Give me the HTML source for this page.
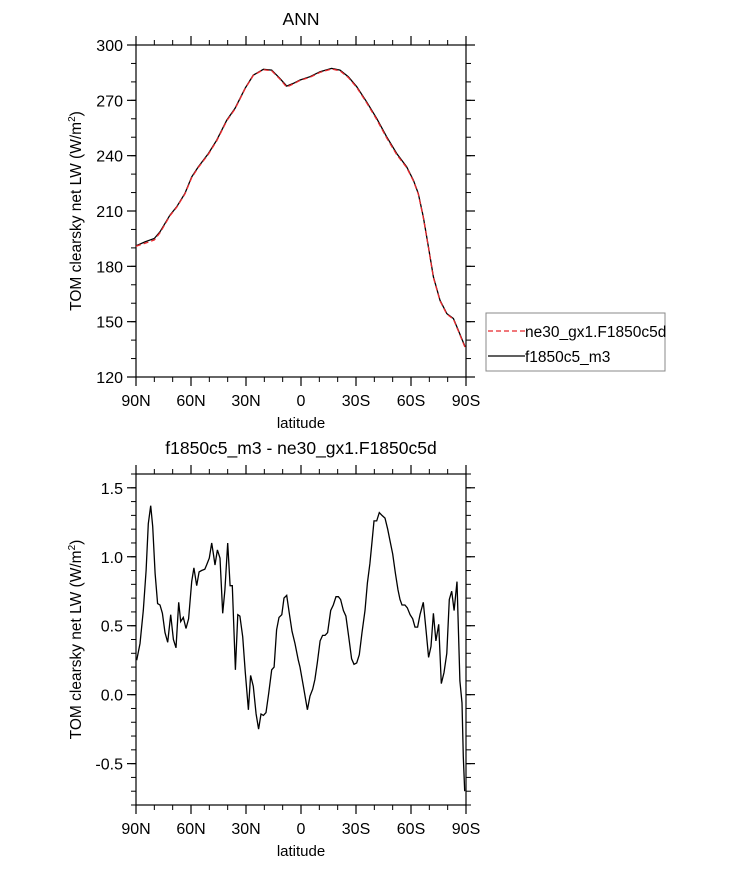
<!DOCTYPE html>
<html><head><meta charset="utf-8"><style>
body{margin:0;background:#fff;}
svg{display:block;font-family:"Liberation Sans",sans-serif;}
</style></head><body>
<svg id="chart" width="733" height="869" viewBox="0 0 733 869"></svg>
<script>
// Top panel data
const topLats = [90,85.1,80,76.9,71.5,67.8,63.3,59.6,56,50.5,46,40.5,36,30.5,26,20.5,16,11.5,7.8,4.2,0.5,-4.9,-10.4,-16.7,-21.3,-25.8,-30.4,-35.8,-41.3,-46.7,-52.2,-57.6,-61.3,-64,-66.7,-69.5,-72.2,-75.8,-79.5,-83.1,-85.8,-89.5];
const topM3 = [191.1,193.3,195.1,198.7,207.7,212.3,219.5,228.5,233.9,241.2,248.4,259.3,265.6,276.5,283.7,286.8,286.4,281.9,277.7,279.2,281,282.8,285.5,287.3,286.4,282.8,277.4,269.2,260.2,250.3,241.2,234,226.7,219.5,206.8,190.6,174.3,161.6,154.4,151.7,145.3,136.3];
const topNe30 = [190.9,192.5,194.3,198.2,207.4,212.0,219.2,228.1,233.6,240.8,248.0,258.9,265.3,276.3,283.5,286.6,286.0,281.5,277.2,278.9,280.8,282.5,285.2,287.0,286.0,282.4,277.0,268.7,259.6,249.7,240.6,233.6,226.3,219.2,206.5,190.4,174.0,161.3,154.1,151.4,145.0,136.0];
const topYTicks = [120,150,180,210,240,270,300];
// Bottom panel data (difference)
const diffLats = [89.6,87.8,86.0,84.5,83.3,82.0,80.9,79.6,78.2,76.9,75.6,74.2,72.7,71.1,69.6,68.2,66.7,65.6,64.2,62.7,61.3,59.6,58.4,56.9,55.6,54.2,52.5,51.5,50.0,48.7,47.8,46.9,45.6,44.2,42.7,41.5,40.0,38.7,37.5,35.8,34.5,33.3,31.8,30.4,28.7,27.5,26.0,24.5,23.1,21.8,20.5,19.1,17.6,16.0,14.7,13.3,12.0,10.5,9.3,7.8,6.4,4.9,3.3,1.5,0.55,-1.3,-3.5,-4.9,-6.4,-7.6,-8.9,-10.4,-11.8,-13.1,-14.5,-16.2,-17.6,-19.1,-20.4,-21.6,-23.1,-24.5,-26.0,-27.6,-28.9,-30.4,-31.8,-33.3,-34.9,-36.2,-37.6,-38.7,-39.8,-41.3,-42.7,-44.2,-45.8,-47.3,-48.5,-50.0,-51.5,-52.9,-54.0,-55.1,-56.7,-58.0,-59.5,-60.9,-62.2,-63.6,-64.9,-66.7,-68.2,-69.6,-70.9,-72.2,-73.6,-75.1,-76.5,-78.0,-79.5,-80.9,-82.2,-83.5,-85.1,-86.7,-87.8,-88.5,-89.3];
const diffVals = [0.25,0.37,0.61,0.90,1.24,1.37,1.22,0.88,0.66,0.65,0.59,0.45,0.38,0.58,0.40,0.34,0.67,0.53,0.56,0.48,0.55,0.82,0.92,0.79,0.89,0.90,0.91,0.94,0.99,1.10,1.02,0.94,1.05,0.99,0.59,0.76,1.10,0.79,0.79,0.18,0.58,0.57,0.42,0.16,-0.11,0.14,0.06,-0.14,-0.25,-0.14,-0.15,-0.13,0.01,0.18,0.20,0.47,0.56,0.58,0.70,0.72,0.59,0.46,0.37,0.25,0.20,0.06,-0.11,-0.01,0.04,0.11,0.23,0.39,0.43,0.43,0.45,0.61,0.65,0.71,0.71,0.69,0.61,0.57,0.42,0.26,0.22,0.23,0.29,0.45,0.61,0.81,0.95,1.10,1.26,1.26,1.32,1.30,1.28,1.20,1.12,1.02,0.88,0.76,0.69,0.65,0.65,0.63,0.58,0.55,0.49,0.49,0.58,0.67,0.47,0.27,0.35,0.59,0.39,0.51,0.08,0.16,0.30,0.69,0.75,0.61,0.82,0.10,-0.06,-0.45,-0.70];
const diffYTicks = [-0.5,0.0,0.5,1.0,1.5];
const diffYLabels = ["-0.5","0.0","0.5","1.0","1.5"];
const xTickLats = [90,60,30,0,-30,-60,-90];
const xTickLabels = ["90N","60N","30N","0","30S","60S","90S"];

const NS="http://www.w3.org/2000/svg";
const svg=document.getElementById('chart');
function mk(tag,attrs,parent){const e=document.createElementNS(NS,tag);for(const k in attrs)e.setAttribute(k,attrs[k]);(parent||svg).appendChild(e);return e;}
const X0=136,X1=466;
function xS(lat){return X0+(90-lat)/180*(X1-X0);}

function panel(name,top,bottom,ymin,ymax,yticks,ylabels,minorStep,title){
  const g=mk('g',{});
  
  
  const yS=v=>bottom-(v-ymin)/(ymax-ymin)*(bottom-top);
  for(let v=Math.ceil(ymin/minorStep-1e-6)*minorStep; v<=ymax+1e-9; v+=minorStep){
    const y=yS(v);
    mk('line',{x1:X0-5,x2:X0,y1:y,y2:y,stroke:'#000','stroke-width':1},g);
    mk('line',{x1:X1,x2:X1+5,y1:y,y2:y,stroke:'#000','stroke-width':1},g);
  }
  for(let l=-80;l<=80;l+=10){const x=xS(l);
    mk('line',{x1:x,x2:x,y1:bottom,y2:bottom+5,stroke:'#000','stroke-width':1},g);
    mk('line',{x1:x,x2:x,y1:top-5,y2:top,stroke:'#000','stroke-width':1},g);}
  yticks.forEach((v,i)=>{const y=yS(v);
    mk('line',{x1:X0-9,x2:X0,y1:y,y2:y,stroke:'#000','stroke-width':1.2},g);
    mk('line',{x1:X1,x2:X1+9,y1:y,y2:y,stroke:'#000','stroke-width':1.2},g);
    const t=mk('text',{x:X0-13,y:y+6,'text-anchor':'end','font-size':16},g);
    t.textContent=ylabels[i];
    
    
  });
  xTickLats.forEach((l,i)=>{const x=xS(l);
    mk('line',{x1:x,x2:x,y1:bottom,y2:bottom+9,stroke:'#000','stroke-width':1.2},g);
    mk('line',{x1:x,x2:x,y1:top-9,y2:top,stroke:'#000','stroke-width':1.2},g);
    const t=mk('text',{x:x,y:bottom+29,'text-anchor':'middle','font-size':16},g);
    t.textContent=xTickLabels[i];
    
    
  });
  mk('rect',{x:X0,y:top,width:X1-X0,height:bottom-top,fill:'none',stroke:'#000','stroke-width':1.2},g);
  const xt=mk('text',{x:(X0+X1)/2,y:bottom+51,'text-anchor':'middle','font-size':15},g);
  xt.textContent='latitude';
  
  
  const cy=(top+bottom)/2;
  const yt=mk('text',{x:0,y:0,'text-anchor':'middle','font-size':15.5,transform:`translate(81,${cy}) rotate(-90)`},g);
  yt.innerHTML='TOM clearsky net LW (W/m<tspan dy="-6" font-size="10">2</tspan><tspan dy="6">)</tspan>';
  
  
  const tt=mk('text',{x:(X0+X1)/2,y:top-20,'text-anchor':'middle','font-size':17.5},g);
  tt.textContent=title;
  
  
  return yS;
}
const yTop=panel('top-panel',45,377,120,300,topYTicks,topYTicks.map(String),10,'ANN');
const yBot=panel('bottom-panel',474,805,-0.8,1.6,diffYTicks,diffYLabels,0.1,'f1850c5_m3 - ne30_gx1.F1850c5d');
function path(lats,vals,yS){return lats.map((l,i)=>(i?'L':'M')+xS(l).toFixed(1)+','+yS(vals[i]).toFixed(1)).join('');}
const p1=mk('path',{d:path(topLats,topM3,yTop),fill:'none',stroke:'#000','stroke-width':1.3});


const p2=mk('path',{d:path(topLats,topNe30,yTop),fill:'none',stroke:'#e8262b','stroke-width':1.3,'stroke-dasharray':'5,3'});


const p3=mk('path',{d:path(diffLats,diffVals,yBot),fill:'none',stroke:'#000','stroke-width':1.3});


const lg=mk('g',{});


mk('rect',{x:486,y:313,width:179,height:58,fill:'#fff',stroke:'#888','stroke-width':1},lg);
mk('line',{x1:488,x2:525,y1:331,y2:331,stroke:'#e8262b','stroke-width':1.3,'stroke-dasharray':'5,3'},lg);
mk('line',{x1:488,x2:525,y1:356,y2:356,stroke:'#000','stroke-width':1.3},lg);
const l1=mk('text',{x:525,y:337,'font-size':15.5},lg);l1.textContent='ne30_gx1.F1850c5d';


const l2=mk('text',{x:525,y:362,'font-size':15.5},lg);l2.textContent='f1850c5_m3';


</script>
</body></html>
